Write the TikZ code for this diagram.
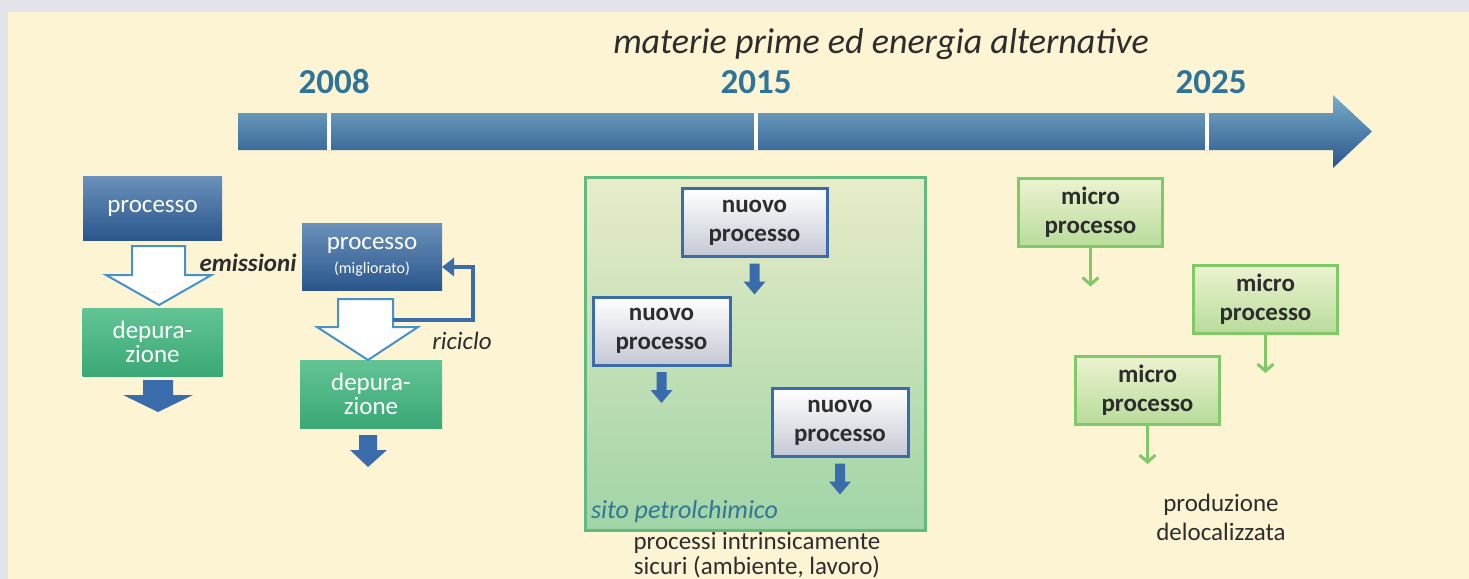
\documentclass[tikz,border=0pt]{standalone}
\usepackage{fontspec}
\setmainfont{Carlito}
\usetikzlibrary{arrows.meta,calc,positioning}
\definecolor{sfondo}{RGB}{253,244,212}
\definecolor{cornice}{RGB}{227,228,234}
\definecolor{anno}{RGB}{46,115,153}
\definecolor{testo}{RGB}{45,45,45}
\definecolor{bluchiaro}{RGB}{120,172,200}
\definecolor{blu}{RGB}{70,118,170}
\definecolor{bluscuro}{RGB}{42,86,140}
\definecolor{bordoblu}{RGB}{58,108,172}
\definecolor{vuoto}{RGB}{70,145,200}
\definecolor{verdeA}{RGB}{98,196,148}
\definecolor{verdeB}{RGB}{58,168,118}
\definecolor{sitoA}{RGB}{232,236,200}
\definecolor{sitoB}{RGB}{160,212,166}
\definecolor{sitobordo}{RGB}{98,186,128}
\definecolor{microA}{RGB}{236,242,208}
\definecolor{microB}{RGB}{184,220,154}
\definecolor{microbordo}{RGB}{128,200,104}
\definecolor{sito}{RGB}{50,118,150}

\tikzset{
  scatola/.style={inner sep=0pt, outer sep=0pt, align=center},
  proc/.style={scatola, top color=blu!80!white, bottom color=bluscuro, text=white,
    font=\fontsize{12.5}{14}\selectfont},
  dep/.style={scatola, top color=verdeA, bottom color=verdeB, text=white,
    font=\fontsize{12.5}{12}\selectfont, minimum width=70pt, minimum height=34pt},
  nuovo/.style={scatola, draw=bordoblu, line width=1.5pt, top color=white,
    bottom color={rgb,255:red,196;green,200;blue,212}, text=testo,
    font=\bfseries\fontsize{12.5}{14.5}\selectfont, minimum width=69pt, minimum height=34pt},
  micro/.style={scatola, draw=microbordo, line width=1.5pt, top color=microA,
    bottom color=microB, text=testo,
    font=\bfseries\fontsize{12.5}{14.5}\selectfont, minimum width=72pt, minimum height=34pt},
  anno/.style={text=anno, font=\bfseries\fontsize{17.5}{20}\selectfont},
  etichetta/.style={text=testo, font=\itshape\fontsize{12.5}{14}\selectfont},
  cavo/.style={draw=vuoto, line width=1pt, fill=white},
  pieno/.style={fill=bordoblu},
  riciclo/.style={draw=bordoblu, line width=2pt, -{Triangle[length=6pt,width=9pt]}},
  freccina/.style={draw=microbordo, line width=1.5pt, -{Straight Barb[length=3.5pt,width=8pt]}}
}

\begin{document}
\begin{tikzpicture}[x=0.5pt,y=-0.5pt]
\useasboundingbox (0,0) rectangle (1469,579);
\fill[cornice] (0,0) rectangle (1469,579);
\fill[sfondo] (8,12) rectangle (1469,579);

% linea del tempo
\shade[top color=bluchiaro, middle color=blu, bottom color=bluscuro]
  (238,113) -- (1333,113) -- (1333,95) -- (1372,131.5) -- (1333,168) -- (1333,150) -- (238,150) -- cycle;
\foreach \x in {329,756,1207}
  \draw[white, line width=2pt] (\x,113) -- (\x,150);
\node[anno] (a2008) at (334,82) {2008};
\node[anno] (a2015) at (756,82) {2015};
\node[anno] (a2025) at (1211,82) {2025};
\node[text=testo, font=\itshape\fontsize{18}{20}\selectfont] (titolo) at (881,44)
  {materie prime ed energia alternative};

% 2008
\node[proc, minimum width=69.5pt, minimum height=32pt] (proc1) at (152.5,208) {processo};
\node[dep] (dep1) at (152.5,342) {depura-\\zione};
\draw[cavo] ($(proc1.south)+(-20.5,6)$) -- ++(0,29) -- ++(-26,0) -- ($(proc1.south)+(6.5,65)$)
  -- ++(52.5,-30) -- ++(-26.5,0) -- ++(0,-29) -- cycle;
\node[etichetta, font=\bfseries\itshape\fontsize{12.5}{14}\selectfont] (emis) at (248,263) {emissioni};
\fill[pieno] ($(dep1.south)+(-9.5,4)$) -- ++(0,15) -- ++(-20,0) -- ($(dep1.south)+(5.5,36)$)
  -- ++(35,-17) -- ++(-20,0) -- ++(0,-15) -- cycle;

\node[proc, minimum width=70pt, minimum height=33.5pt] (proc2) at (372,256.5)
  {processo\\[-2pt]{\fontsize{8}{9}\selectfont (migliorato)}};
\node[dep, minimum width=71pt] (dep2) at (371,394) {depura-\\zione};
\draw[cavo] ($(proc2.south)+(-34,9)$) -- ++(0,28) -- ++(-21,0) -- ($(proc2.south)+(-4,70)$)
  -- ++(50,-33) -- ++(-25,0) -- ++(0,-28) -- cycle;
\coordinate (ric) at ($(proc2.south)+(21,30)$);
\draw[riciclo] (ric) -- ++(80,0) |- ($(proc2.east)+(0,10.5)$);
\node[etichetta] (ricl) at (462,341) {riciclo};
\fill[pieno] ($(dep2.south)+(-12,7)$) -- ++(0,15) -- ++(-9,0) -- ($(dep2.south)+(-3,39)$)
  -- ++(19,-17) -- ++(-10,0) -- ++(0,-15) -- cycle;

% 2015
\node[scatola, draw=sitobordo, line width=1.5pt, top color=sitoA, bottom color=sitoB,
  minimum width=170pt, minimum height=176.5pt] (sito) at (755,353.5) {};
\node[nuovo, minimum width=72.5pt] (np1) at (754.5,222.5) {nuovo\\processo};
\node[nuovo, minimum width=68.5pt] (np2) at (661.5,331) {nuovo\\processo};
\node[nuovo, minimum width=68pt] (np3) at (840,422.5) {nuovo\\processo};
\foreach \n in {np1,np2,np3}
  \fill[pieno] ($(\n.south)+(-5,7)$) -- ++(0,18) -- ++(-6,0) -- ($(\n.south)+(0,38)$)
    -- ++(11,-13) -- ++(-6,0) -- ++(0,-18) -- cycle;
\node[anchor=west, text=sito, font=\itshape\fontsize{13}{15}\selectfont] (sitol) at (584,512)
  {sito petrolchimico};
\node[text=testo, align=center, font=\fontsize{12.5}{12.5}\selectfont] (sicuri) at (757,555)
  {processi intrinsicamente\\sicuri (ambiente, lavoro)};

% 2025
\node[micro] (mp1) at (1090.5,212.5) {micro\\processo};
\node[micro] (mp2) at (1265.5,299) {micro\\processo};
\node[micro] (mp3) at (1147.5,390) {micro\\processo};
\foreach \n in {mp1,mp2,mp3}
  \draw[freccina] (\n.south) -- ++(0,40);
\node[text=testo, align=center, font=\fontsize{12.5}{14.5}\selectfont] (delo) at (1221,517)
  {produzione\\delocalizzata};
\end{tikzpicture}
\end{document}
